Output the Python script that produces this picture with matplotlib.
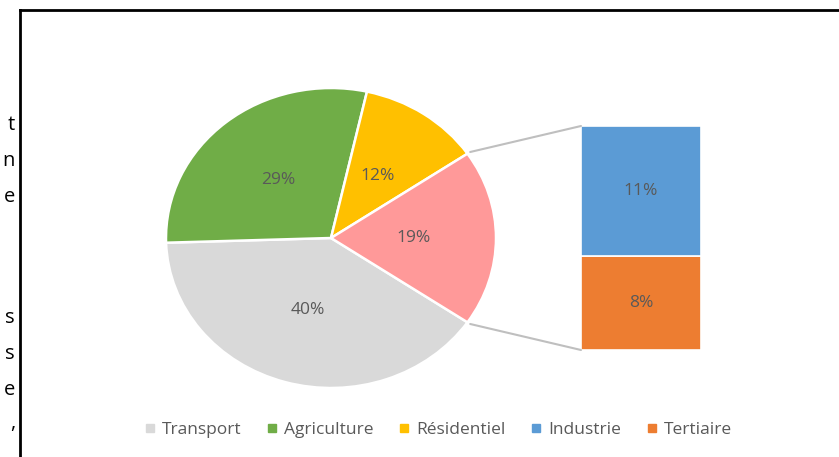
import numpy as np
import matplotlib.pyplot as plt
from matplotlib.lines import Line2D
from matplotlib.patches import ConnectionPatch

plt.rcParams['font.family'] = ['Open Sans', 'DejaVu Sans']

# --- data -------------------------------------------------------------------
sectors = ['Transport', 'Agriculture', 'Résidentiel', 'Industrie', 'Tertiaire']
shares = [40, 29, 12, 11, 8]
colors = ['#D9D9D9', '#70AD47', '#FFC000', '#5B9BD5', '#ED7D31']
other_color = '#FF9999'
n_main = 3  # the last two sectors go into the secondary stack

# letters from the surrounding page text, cut by the chart frame
side_letters = ['t', 'n', 'e', 's', 's', 'e', ',']
side_rows = [125, 161, 197, 318, 354, 390, 423]

TEXT = '#595959'
W, H = 839, 457

def box(x0, y0, x1, y1):
    # pixel box (top-left origin) -> figure rect
    return [x0 / W, 1 - y1 / H, (x1 - x0) / W, (y1 - y0) / H]

fig = plt.figure(figsize=(W / 100, H / 100), dpi=100)

# main pie --------------------------------------------------------------------
main_vals = shares[:n_main] + [sum(shares[n_main:])]
main_cols = colors[:n_main] + [other_color]
other_frac = main_vals[-1] / sum(main_vals)

ax = fig.add_axes(box(166, 88, 496, 388))
wedges, _, autotexts = ax.pie(
    main_vals, colors=main_cols, counterclock=False,
    startangle=-180 * other_frac, radius=1,
    autopct='%1.0f%%', pctdistance=0.5,
    wedgeprops=dict(edgecolor='white', linewidth=1.8),
    textprops=dict(color=TEXT, fontsize=12.5))
ax.set_aspect('auto')
ax.set_xlim(-1, 1)
ax.set_ylim(-1, 1)

# secondary stack ---------------------------------------------------------------
ax2 = fig.add_axes(box(581, 126, 701, 350))
bottom = 0
for val, col in zip(shares[n_main:][::-1], colors[n_main:][::-1]):
    ax2.bar(0, val, width=1, bottom=bottom, color=col,
            edgecolor='white', linewidth=1.2)
    ax2.text(0, bottom + val / 2, f'{val}%', ha='center', va='center',
             color=TEXT, fontsize=12.5)
    bottom += val
ax2.set_xlim(-0.5, 0.5)
ax2.set_ylim(0, bottom)
ax2.axis('off')

# connector lines from the "other" wedge to the stack
ang = np.deg2rad(180 * other_frac)
for sgn, yb in [(1, bottom), (-1, 0)]:
    p = (np.cos(ang) * 1.02, sgn * np.sin(ang) * 1.02)
    con = ConnectionPatch(xyA=p, coordsA=ax.transData,
                          xyB=(-0.5, yb), coordsB=ax2.transData,
                          color='#BFBFBF', linewidth=1.5)
    fig.add_artist(con)

# legend ------------------------------------------------------------------------
handles = [Line2D([], [], linestyle='none', marker='s', markersize=5.5,
                  markerfacecolor=c, markeredgecolor=c) for c in colors]
fig.legend(handles, sectors, loc='center', ncol=5,
           bbox_to_anchor=(438 / W, 1 - 430 / H), frameon=False,
           fontsize=12.5, labelcolor=TEXT, handlelength=0.7,
           handletextpad=0.35, columnspacing=1.4)

# chart frame (top and left edges visible)
fig.add_artist(Line2D([20 / W, 1], [1 - 10 / H, 1 - 10 / H],
                      color='black', linewidth=2, transform=fig.transFigure))
fig.add_artist(Line2D([20 / W, 20 / W], [1 - 10 / H, 0],
                      color='black', linewidth=2, transform=fig.transFigure))

for ch, y in zip(side_letters, side_rows):
    fig.text(15 / W, 1 - y / H, ch, ha='right', va='center',
             fontsize=14.5, color='black')

fig.savefig('out.png', dpi=100)
